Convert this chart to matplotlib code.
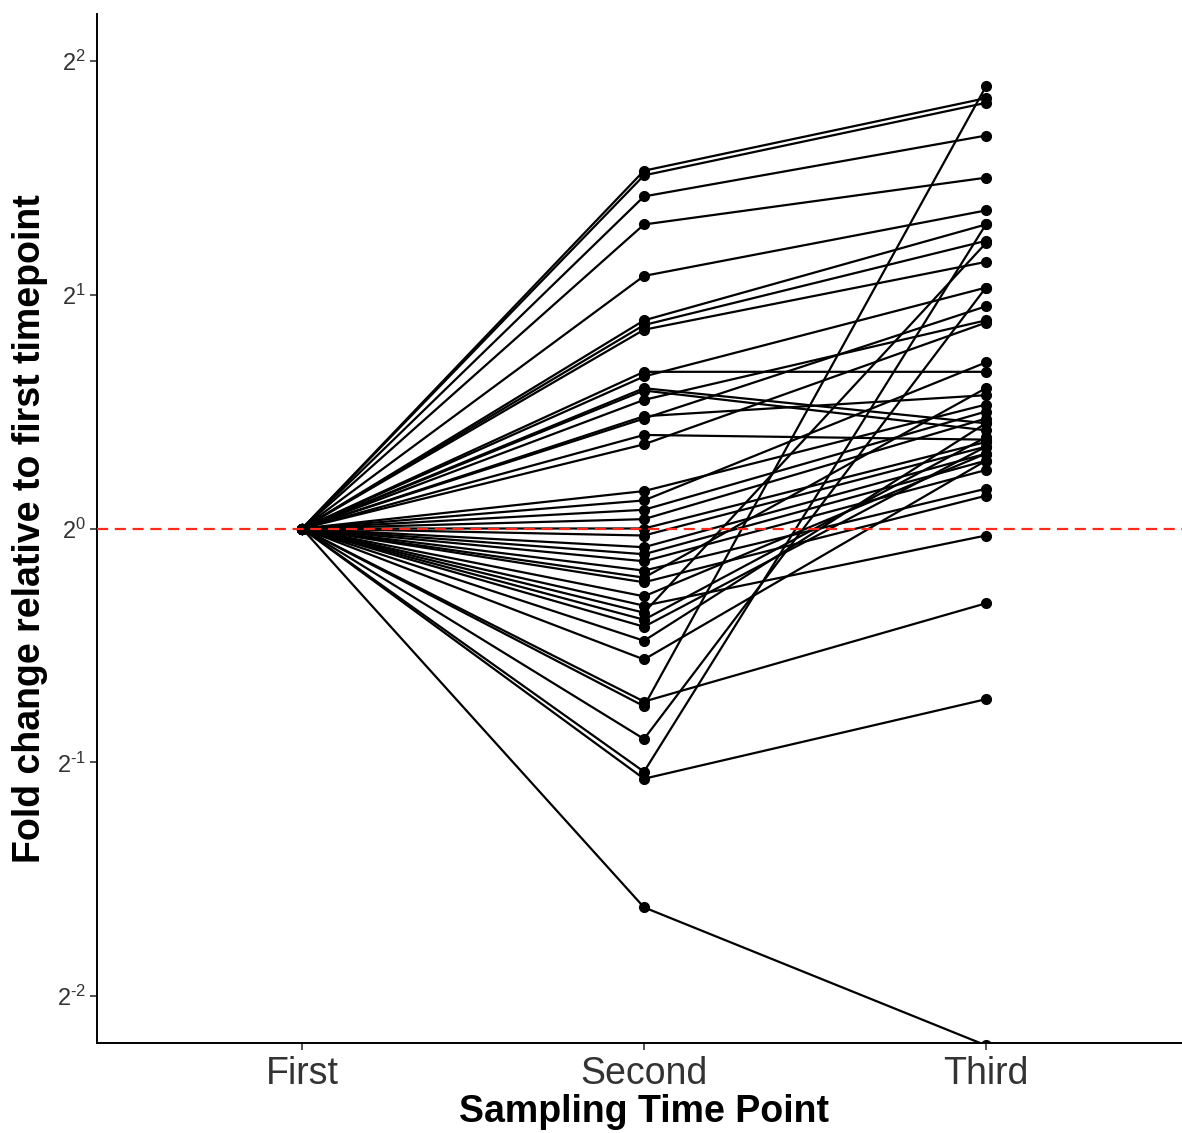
import numpy as np
import matplotlib
matplotlib.use('Agg')
import matplotlib.pyplot as plt

plt.rcParams['font.family'] = ['Liberation Sans', 'DejaVu Sans']
plt.rcParams['mathtext.fontset'] = 'custom'
plt.rcParams['mathtext.rm'] = 'Liberation Sans'
plt.rcParams['mathtext.it'] = 'Liberation Sans:italic'
plt.rcParams['mathtext.bf'] = 'Liberation Sans:bold'

# Sampling time points (discrete x axis)
time_points = ['First', 'Second', 'Third']

# log2 fold change of each sample relative to its first timepoint
log2_first = np.zeros(42)
log2_second = np.array([
    1.53, 1.51, 1.42, 1.30, 1.08, 0.89, 0.87, 0.85, 0.67, 0.65,
    0.60, 0.59, 0.55, 0.48, 0.47, 0.40, 0.36, 0.16, 0.12, 0.08,
    0.04, 0.00, -0.03, -0.08, -0.11, -0.14, -0.18, -0.21, -0.23, -0.29,
    -0.33, -0.36, -0.39, -0.42, -0.48, -0.56, -0.74, -0.76, -0.90, -1.04,
    -1.07, -1.62,
])
log2_third = np.array([
    1.84, 1.82, 1.68, 1.50, 1.36, 1.30, 1.23, 1.14, 0.67, 1.03,
    0.45, 0.42, 0.89, 0.57, 0.95, 0.38, 0.88, 0.53, 0.71, 0.50,
    0.47, 0.37, 0.35, 0.32, 0.29, 0.25, 0.17, 0.60, 0.14, 0.32,
    -0.03, 1.22, 0.39, 0.35, 0.45, 0.29, -0.32, 1.89, 1.03, 1.30,
    -0.73, -2.21,
])

y_ticks = [-2, -1, 0, 1, 2]

fig = plt.figure(figsize=(11.82, 11.33), dpi=100)
ax = fig.add_axes([97 / 1182, 90 / 1133, 1094 / 1182, 1029 / 1133])

x = np.arange(1, len(time_points) + 1)
for f, s, t in zip(log2_first, log2_second, log2_third):
    vals = 2.0 ** np.array([f, s, t])
    ax.plot(x, vals, color='black', linewidth=1.6, marker='o',
            markersize=7, solid_capstyle='round', zorder=2)

ax.axhline(1.0, color='#ff2a1a', linestyle=(0, (5, 3)), linewidth=1.6,
           zorder=3)

ax.set_yscale('log', base=2)
ax.set_ylim(2.0 ** -2.2, 2.0 ** 2.2)
ax.set_xlim(0.4, 3.6)
ax.set_yticks([2.0 ** k for k in y_ticks])
ax.set_yticklabels([r'$\mathregular{2^{\text{%d}}}$' % k for k in y_ticks])
ax.yaxis.set_minor_locator(matplotlib.ticker.NullLocator())
ax.set_xticks(x)
ax.set_xticklabels(time_points)

ax.spines['top'].set_visible(False)
ax.spines['right'].set_visible(False)
for side in ['left', 'bottom']:
    ax.spines[side].set_linewidth(1.4)
    ax.spines[side].set_color('black')

ax.tick_params(axis='y', labelsize=17, labelcolor='#333333', color='#333333',
               length=5, width=1.2, pad=3)
ax.tick_params(axis='x', labelsize=27, labelcolor='#333333', color='#333333',
               length=5, width=1.2, pad=4)

ax.set_xlabel('Sampling Time Point', fontsize=27, fontweight='bold', labelpad=2)
ax.set_ylabel('Fold change relative to first timepoint', fontsize=27,
              fontweight='bold', labelpad=6)

fig.savefig('out.png', dpi=100)
